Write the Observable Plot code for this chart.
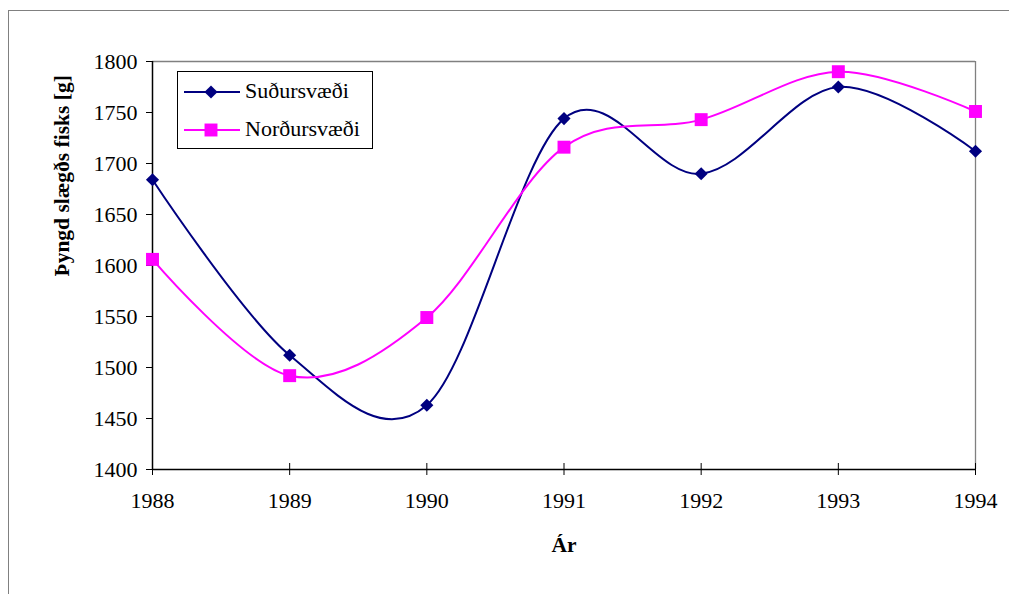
<!DOCTYPE html>
<html><head><meta charset="utf-8">
<script src="https://cdn.jsdelivr.net/npm/d3@7"></script>
<script src="https://cdn.jsdelivr.net/npm/@observablehq/plot@0.6"></script>
<style>
body{margin:0;width:1009px;height:594px;overflow:hidden;position:relative;background:#fff;font-family:'Liberation Serif','DejaVu Serif','Times New Roman',Times,serif;}
#outer{position:absolute;left:8px;top:10px;width:1200px;height:800px;border:1px solid #808080;}
#chart{position:absolute;left:0;top:0;}
#legend{position:absolute;left:177px;top:71px;width:196px;height:78px;border:1px solid #000;background:#fff;box-sizing:border-box;}
.row{position:absolute;left:0;height:24px;width:190px;}
.row svg{position:absolute;left:6px;top:0;}
.row span{position:absolute;left:67px;top:-1px;font-size:22px;line-height:24px;color:#000;white-space:nowrap;}
#chart svg, #chart svg text{font-family:'Liberation Serif','DejaVu Serif','Times New Roman',Times,serif !important;}
</style></head><body>
<div id="outer"></div><div id="chart"></div><div id="legend"></div>
<script>
const years = [1988, 1989, 1990, 1991, 1992, 1993, 1994];
const sudur = [1684, 1512, 1463, 1744, 1690, 1775, 1712];
const nordur = [1606, 1492, 1549, 1716, 1743, 1790, 1751];
const seriesNames = ["Suðursvæði", "Norðursvæði"];
const seriesColors = ["#000080", "#FF00FF"];
const seriesSymbols = ["diamond2", "square"];
const seriesR = [5.9, 7.3];
const yTicks = [1400, 1450, 1500, 1550, 1600, 1650, 1700, 1750, 1800];
const xLabel = "Ár";
const yLabel = "Þyngd slægðs fisks [g]";

const seriesValues = [sudur, nordur];
const data = [];
seriesNames.forEach((s, i) => years.forEach((y, j) => data.push({series: s, year: y, value: seriesValues[i][j]})));

const fmt = d3.format("d");

const plot = Plot.plot({
  width: 1009, height: 594,
  marginLeft: 152, marginRight: 34, marginTop: 61, marginBottom: 125,
  style: {fontSize: "22px", color: "#000", background: "transparent"},
  x: {domain: [1988, 1994]},
  y: {domain: [1400, 1800]},
  color: {domain: seriesNames, range: seriesColors},
  symbol: {domain: seriesNames, range: seriesSymbols},
  marks: [
    Plot.ruleY([1800], {stroke: "#808080", strokeWidth: 1.3}),
    Plot.ruleX([1994], {stroke: "#808080", strokeWidth: 1.3}),
    Plot.axisY({ticks: yTicks, tickFormat: fmt, tickSize: 6, tickPadding: 9, label: null, stroke: "#000"}),
    Plot.axisX({ticks: years, tickFormat: fmt, tickSize: 0, tickPadding: 23, label: null}),
    Plot.axisX({ticks: years, tickFormat: null, text: null, tickSize: 12, dy: -6, label: null, stroke: "#000"}),
    Plot.ruleX([1988], {stroke: "#000", strokeWidth: 1.5}),
    Plot.ruleY([1400], {stroke: "#000", strokeWidth: 1.5}),
    Plot.line(data, {x: "year", y: "value", z: "series", stroke: "series", strokeWidth: 2, curve: "cardinal"}),
    ...seriesNames.map((s, i) => Plot.dot(data.filter(d => d.series === s), {x: "year", y: "value", symbol: "series", fill: "series", stroke: "none", r: seriesR[i]})),
    Plot.text([xLabel], {frameAnchor: "bottom", dy: 76, fontWeight: "bold", fontSize: 21.5, lineAnchor: "middle"}),
    Plot.text([yLabel], {frameAnchor: "left", dx: -90, dy: 11, rotate: -90, fontWeight: "bold", fontSize: 21.5, lineAnchor: "middle"})
  ]
});
document.getElementById("chart").appendChild(plot);

// legend
const legend = document.getElementById("legend");
const rowTops = [8, 46];
seriesNames.forEach((s, i) => {
  const row = document.createElement("div");
  row.className = "row";
  row.style.top = rowTops[i] + "px";
  const sym = d3.symbol(i === 0 ? d3.symbolDiamond2 : d3.symbolSquare, Math.PI * seriesR[i] * seriesR[i])();
  row.innerHTML = `<svg width="58" height="24"><line x1="0" x2="56" y1="12" y2="12" stroke="${seriesColors[i]}" stroke-width="2"/><path d="${sym}" transform="translate(27,12)" fill="${seriesColors[i]}"/></svg><span>${s}</span>`;
  legend.appendChild(row);
});
</script>
</body></html>
